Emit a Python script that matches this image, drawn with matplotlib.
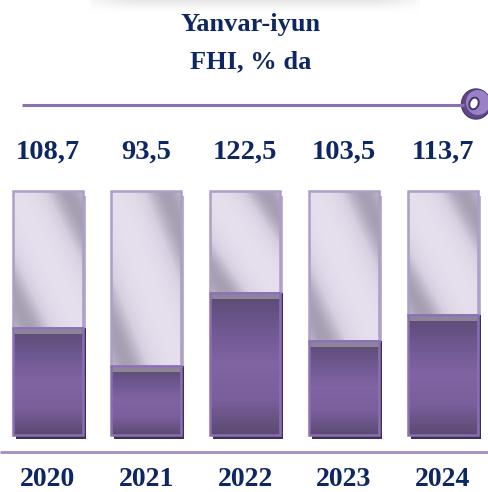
import numpy as np
import matplotlib.pyplot as plt
from matplotlib.colors import LinearSegmentedColormap
from matplotlib.patches import Rectangle, Ellipse

# data
years = ['2020', '2021', '2022', '2023', '2024']
values = [108.7, 93.5, 122.5, 103.5, 113.7]
value_labels = ['108,7', '93,5', '122,5', '103,5', '113,7']
title_lines = ['Yanvar-iyun', 'FHI, % da']

ymin, ymax = 66.5, 162.4
navy = '#0e2763'

fig = plt.figure(figsize=(4.89, 4.92), dpi=100)
fig.patch.set_facecolor('white')

# overlay in pixel coords for decorations
ov = fig.add_axes([0, 0, 1, 1])
ov.set_xlim(0, 489)
ov.set_ylim(492, 0)
ov.axis('off')

# faint grey shadow at the very top
gx = np.linspace(-1, 1, 300)
gy = np.linspace(0, 1, 30)
GX, GY = np.meshgrid(gx, gy)
alpha = np.clip(1 - GY, 0, 1) ** 1.5 * np.clip(1.25 - np.abs(GX) ** 4, 0, 1)
img = np.ones((30, 300, 4))
img[..., :3] = 0.86
img[..., 3] = np.clip(alpha, 0, 1) * 0.7
ov.imshow(img, extent=(90, 420, 14, 0), aspect='auto', interpolation='bilinear')

# top line with knob
ov.plot([22, 464], [105, 105], color='#8a72b2', lw=2.2, solid_capstyle='butt')
ov.add_patch(Ellipse((476, 104), 29, 30, facecolor='#5f4886', edgecolor='#4e3c72', lw=1))
ov.add_patch(Ellipse((478, 102.5), 24, 25, facecolor='#9a80c5', edgecolor='none'))
ov.add_patch(Ellipse((474, 103.5), 9, 12, angle=20, facecolor='white', edgecolor='#46366a', lw=1.4))

# bottom line
ov.plot([0, 489], [452, 452], color='#a48dc4', lw=2, solid_capstyle='butt')

# main axes for bars
ax = fig.add_axes([0, 1 - 435 / 492, 1, 244 / 492])
ax.set_xlim(-0.481, 4.469)
ax.set_ylim(ymin, ymax)
ax.axis('off')
ax.patch.set_alpha(0)

dx = 1 / 98.8
dy = (ymax - ymin) / 244
w = 70 * dx

light_cmap = LinearSegmentedColormap.from_list('lt', ['#e6e0ee', '#d6cfe0', '#a69fb2'])
purple_cmap = LinearSegmentedColormap.from_list(
    'pu', ['#5b4a72', '#6e5890', '#8164a3', '#7a5f9c', '#5b4a72'])

u = np.linspace(0, 1, 80)
t = np.linspace(0, 1, 160)
U, T = np.meshgrid(u, t)
e = np.abs(U - T)
shade = np.exp(-((e - 0.78) / 0.38) ** 2)

x = np.arange(len(years))
for i, v in zip(x, values):
    l, r = i - w / 2, i + w / 2
    # shadows
    ax.add_patch(Rectangle((l + 3 * dx, ymin - 4 * dy), w, v - ymin + 4 * dy,
                           facecolor='#3d3052', edgecolor='none', zorder=1, clip_on=False))
    ax.add_patch(Rectangle((l + 3 * dx, v), w, ymax - v - 5 * dy,
                           facecolor='#bdb4c6', edgecolor='none', zorder=1, clip_on=False))
    # light upper part with metallic diagonal sheen
    ax.imshow(shade, cmap=light_cmap, vmin=0, vmax=1, extent=(l, r, v, ymax),
              origin='upper', aspect='auto', interpolation='bilinear', zorder=2)
    ax.add_patch(Rectangle((l, v), w, ymax - v, facecolor='none',
                           edgecolor='#ad9dc9', lw=1.8, zorder=4, clip_on=False))
    # purple lower part
    grad = np.linspace(0, 1, 200).reshape(-1, 1)
    ax.imshow(grad, cmap=purple_cmap, vmin=0, vmax=1, extent=(l, r, ymin, v),
              origin='upper', aspect='auto', interpolation='bilinear', zorder=2)
    ax.add_patch(Rectangle((l, v - 6 * dy), w, 6 * dy, facecolor='#8e8698',
                           edgecolor='none', zorder=3))
    ax.add_patch(Rectangle((l, ymin), w, v - ymin, facecolor='none',
                           edgecolor='#8a6fb5', lw=1.8, zorder=4, clip_on=False))
    # labels
    ax.text(i, ymax + 39 * dy, value_labels[i], ha='center', va='center',
            fontsize=20.5, fontweight='bold', family='Liberation Serif', color=navy,
            clip_on=False)
    ax.text(i, ymin - 45 * dy, years[i], ha='center', va='center',
            fontsize=20, fontweight='bold', family='Liberation Serif', color=navy,
            clip_on=False)

ax.set_xlim(-0.481, 4.469)
ax.set_ylim(ymin, ymax)

fig.text(251 / 489, 1 - 25 / 492, title_lines[0], ha='center', va='center',
         fontsize=19, fontweight='bold', family='Liberation Serif', color=navy)
fig.text(251 / 489, 1 - 62 / 492, title_lines[1], ha='center', va='center',
         fontsize=19, fontweight='bold', family='Liberation Serif', color=navy)

fig.savefig('out.png', dpi=100, facecolor='white')
